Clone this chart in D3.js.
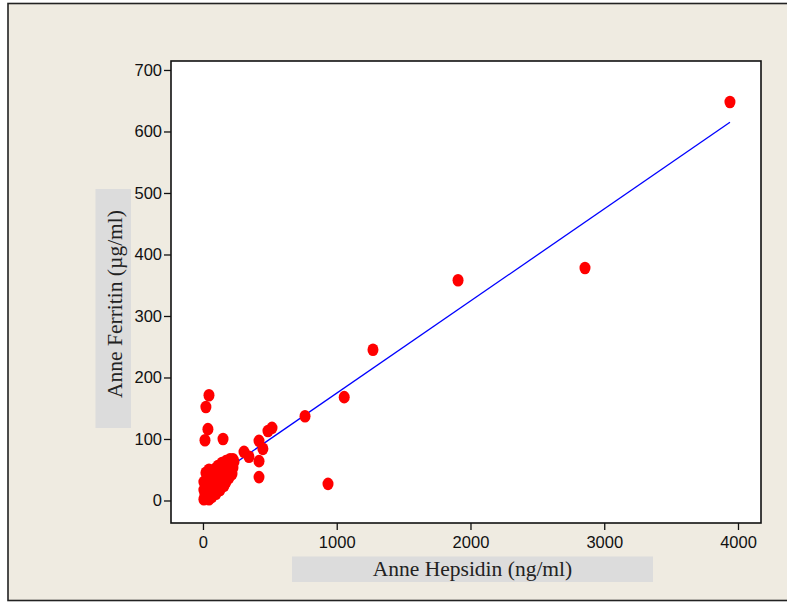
<!DOCTYPE html>
<html><head><meta charset="utf-8">
<script src="https://cdn.jsdelivr.net/npm/d3@7"></script>
<style>html,body{margin:0;padding:0;background:#fff;}svg{display:block;}</style>
</head><body>
<script>
// Data: Anne Hepsidin (ng/ml) vs Anne Ferritin (µg/ml)
const hepsidin = [3940,2856,1907,1271,1056,763,935,516,486,419,448,419,419,307,344,150,45,22,37,15,
  7,15,7,22,7,30,22,45,67,90,112,142,172,202,224,232,224,217,194,172,157,127,97,67,45,
  52,75,90,112,135,157,187,172,142,120,97,67,37,52,67,90];
const ferritin = [648,378,358,245,168,137,27,118,113,97,84,64,38,79,71,100,171,152,116,98,
  2,9,17,24,30,37,45,50,46,51,56,61,64,67,67,63,53,43,37,30,24,17,11,6,2,
  17,25,33,40,46,53,56,45,35,27,20,14,11,28,38,43];
const xTicks = [0,1000,2000,3000,4000];
const yTicks = [0,100,200,300,400,500,600,700];
const fitIntercept = 24.7, fitSlope = 0.1498;
const xLabel = "Anne Hepsidin (ng/ml)";
const yLabel = "Anne Ferritin (µg/ml)";

const W = 787, H = 605;
const svg = d3.select("body").append("svg").attr("width", W).attr("height", H);
svg.append("rect").attr("x",8).attr("y",3.5).attr("width",800).attr("height",597)
  .attr("fill","#efebe1").attr("stroke","#222").attr("stroke-width",1.6);

const L = 171, R = 761, T = 61, B = 523;
const x = d3.scaleLinear().domain([-239, 4172]).range([L, R]);
const y = d3.scaleLinear().domain([-36.6, 714.6]).range([B, T]);

svg.append("rect").attr("x",L).attr("y",T).attr("width",R-L).attr("height",B-T).attr("fill","#fff");

// axis label boxes
svg.append("rect").attr("x",292).attr("y",556.5).attr("width",361).attr("height",25.5).attr("fill","#dcdcdc");
svg.append("rect").attr("x",95.5).attr("y",189).attr("width",35.5).attr("height",239).attr("fill","#dcdcdc");
svg.append("text").attr("x",472.5).attr("y",576).attr("text-anchor","middle")
  .style("font-family","'Liberation Serif','Times New Roman',serif").style("font-size","21.5px").attr("fill","#222").text(xLabel);
svg.append("text").attr("transform","translate(122,304) rotate(-90)").attr("text-anchor","middle")
  .style("font-family","'Liberation Serif','Times New Roman',serif").style("font-size","21.5px").attr("fill","#222").text(yLabel);

const fmt = d3.format("d");
const gx = svg.append("g").attr("transform",`translate(0,${B})`)
  .call(d3.axisBottom(x).tickValues(xTicks).tickFormat(fmt).tickSize(7).tickPadding(6).tickSizeOuter(0));
const gy = svg.append("g").attr("transform",`translate(${L},0)`)
  .call(d3.axisLeft(y).tickValues(yTicks).tickFormat(fmt).tickSize(7).tickPadding(2).tickSizeOuter(0));
[gx,gy].forEach(g=>{
  g.attr("font-size", null).attr("font-family", null);
  g.select(".domain").remove();
  g.selectAll("line").attr("stroke","#111").attr("stroke-width",1.3);
  g.selectAll("text").style("font-family","'Liberation Sans',Arial,sans-serif").style("font-size","16.5px").attr("fill","#111");
});

const pts = hepsidin.map((h,i)=>({h, f: ferritin[i]}));
const xmin = d3.min(hepsidin), xmax = d3.max(hepsidin);
svg.append("line")
  .attr("x1", x(xmin)).attr("y1", y(fitIntercept + fitSlope*xmin))
  .attr("x2", x(xmax)).attr("y2", y(fitIntercept + fitSlope*xmax))
  .attr("stroke","#0000ff").attr("stroke-width",1.3);

svg.append("g").selectAll("ellipse").data(pts).join("ellipse")
  .attr("cx", d=>x(d.h)).attr("cy", d=>y(d.f)).attr("rx",5.5).attr("ry",6.3).attr("fill","#ff0000");

svg.append("rect").attr("x",L).attr("y",T).attr("width",R-L).attr("height",B-T)
  .attr("fill","none").attr("stroke","#111").attr("stroke-width",1.6);
</script>
</body></html>
